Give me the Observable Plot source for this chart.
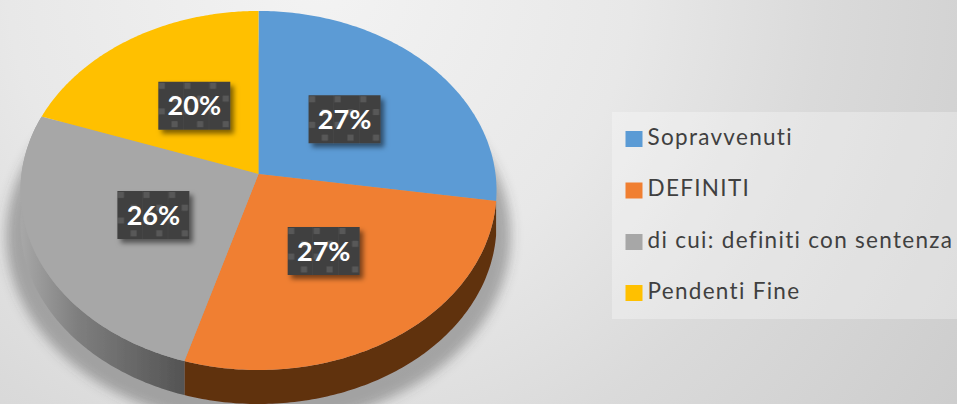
<!DOCTYPE html>
<html>
<head>
<meta charset="utf-8">
<script src="https://cdn.jsdelivr.net/npm/d3@7"></script>
<script src="https://cdn.jsdelivr.net/npm/@observablehq/plot@0.6"></script>
<style>
html,body{margin:0;padding:0;width:957px;height:404px;overflow:hidden;
background:radial-gradient(circle 780px at 320px -20px, #f3f3f3 0%, #e8e8e8 40%, #dadada 65%, #cccccc 100%);}
svg{display:block}
</style>
</head>
<body>
<script>
const categories = ["Sopravvenuti", "DEFINITI", "di cui: definiti con sentenza", "Pendenti Fine"];
const shares = [27.4, 27.2, 25.8, 19.6];
const topColors = ["#5b9bd5", "#f07f31", "#a7a7a7", "#ffc000"];
const sideColors = ["#35597a", "#613011", "url(#graySide)", "#8a6a00"];
const visibleSides = ["DEFINITI", "di cui: definiti con sentenza"];

// Tilted-disc projection of a pie
const W = 957, H = 404, cx = 258.5, cy = 174, B = 237, A = 178, k = 0.0919, depth = 34;
function project(frac, r = 1, grow = 1) {
  const t = frac * 2 * Math.PI;
  const u = r * Math.sin(t), v = -r * Math.cos(t), w = 1 - k * v;
  return {x: cx + grow * B * u / w, y: cy + grow * A * v / w};
}
const cum = d3.cumsum(shares).map(d => d / d3.sum(shares));
const starts = [0, ...cum.slice(0, -1)];
const arc = (a, b, grow = 1) => d3.range(0, 121).map(i => project(a + (b - a) * i / 120, 1, grow));

const topFaces = categories.flatMap((c, i) => arc(starts[i], cum[i]).map(p => ({...p, category: c})));
const sides = categories.flatMap((c, i) => visibleSides.includes(c)
  ? arc(starts[i], cum[i]).map(p => ({...p, category: c, side: sideColors[i]})) : []);
const shadow = arc(0, 1, 1.06);
const labels = categories.map((c, i) => ({
  ...project((starts[i] + cum[i]) / 2, 0.49),
  text: Math.round(shares[i]) + "%"
}));
const legendRows = [138.5, 190, 241.5, 292.5];
const legend = categories.map((c, i) => ({category: c, y: legendRows[i]}));

const boxSymbol = {draw(c) { c.moveTo(-36, -24); c.lineTo(36, -24); c.lineTo(36, 24); c.lineTo(-36, 24); c.closePath(); }};
const swatch = {draw(c) { c.moveTo(-8.5, -8); c.lineTo(8.5, -8); c.lineTo(8.5, 8); c.lineTo(-8.5, 8); c.closePath(); }};

const chart = Plot.plot({
  width: W, height: H, margin: 0,
  style: {background: "transparent", overflow: "hidden"},
  x: {domain: [0, W], range: [0, W], axis: null},
  y: {domain: [0, H], range: [0, H], axis: null},
  color: {domain: categories, range: topColors},
  marks: [
    Plot.rect([0], {x1: 612, x2: W, y1: 112, y2: 319, fill: "#fff", fillOpacity: 0.3}),
    Plot.area(shadow, {x1: "x", y1: d => d.y + 44, x2: () => cx, y2: () => cy + 44, fill: "#444", fillOpacity: 0.4}),
    Plot.area(sides, {x1: "x", y1: "y", x2: "x", y2: d => d.y + depth, z: "category", fill: d => d.side}),
    Plot.area(topFaces, {x1: "x", y1: "y", x2: () => cx, y2: () => cy, z: "category", fill: "category"}),
    Plot.dot(labels, {x: "x", y: "y", symbol: boxSymbol, r: 10, fill: "url(#boxPattern)", stroke: "none"}),
    Plot.text(labels, {x: "x", y: d => d.y + 1, text: "text", fill: "#fff", fontFamily: "Lato", fontWeight: "bold", fontSize: 27}),
    Plot.dot(legend, {x: () => 633.5, y: "y", symbol: swatch, r: 10, fill: "category", stroke: "none"}),
    Plot.text(legend, {x: () => 647, y: d => d.y - 1.5, text: "category", textAnchor: "start", fill: "#404040", fontFamily: "Lato", fontSize: 22.5})
  ]
});
const svg = d3.select(chart);
svg.insert("defs", ":first-child").html(`
  <linearGradient id="graySide" gradientUnits="userSpaceOnUse" x1="20" x2="186" y1="0" y2="0">
    <stop offset="0" stop-color="#a8a8a8"/><stop offset="0.35" stop-color="#7e7e7e"/><stop offset="1" stop-color="#535353"/>
  </linearGradient>
  <pattern id="boxPattern" patternUnits="userSpaceOnUse" x="-36" y="-24" width="25.6" height="25.6">
    <rect width="25.6" height="25.6" fill="#404040"/>
    <rect x="25.2" width="0.4" height="25.6" fill="#4c4c4c"/>
    <rect x="0.5" y="1" width="6" height="6" fill="#595959"/>
    <rect x="13.3" y="13.8" width="6" height="6" fill="#595959"/>
  </pattern>
  <filter id="blur10" x="-20%" y="-20%" width="140%" height="140%"><feGaussianBlur stdDeviation="6"/></filter>
  <filter id="soft" x="-5%" y="-5%" width="110%" height="110%"><feGaussianBlur stdDeviation="0.6"/></filter>
  <filter id="boxShadow" x="-30%" y="-30%" width="160%" height="160%"><feDropShadow dx="3.5" dy="4" stdDeviation="2.5" flood-color="#000" flood-opacity="0.5"/></filter>`);
const groups = svg.selectAll(":scope > g").nodes();
d3.select(groups[1]).attr("filter", "url(#blur10)");
d3.select(groups[2]).attr("filter", "url(#soft)");
d3.select(groups[3]).attr("filter", "url(#soft)");
d3.select(groups[4]).selectAll("path").attr("filter", "url(#boxShadow)");
d3.select(groups[7]).style("letter-spacing", "1.3px").style("font-variant-ligatures", "none");
document.body.appendChild(chart);
</script>
</body>
</html>
